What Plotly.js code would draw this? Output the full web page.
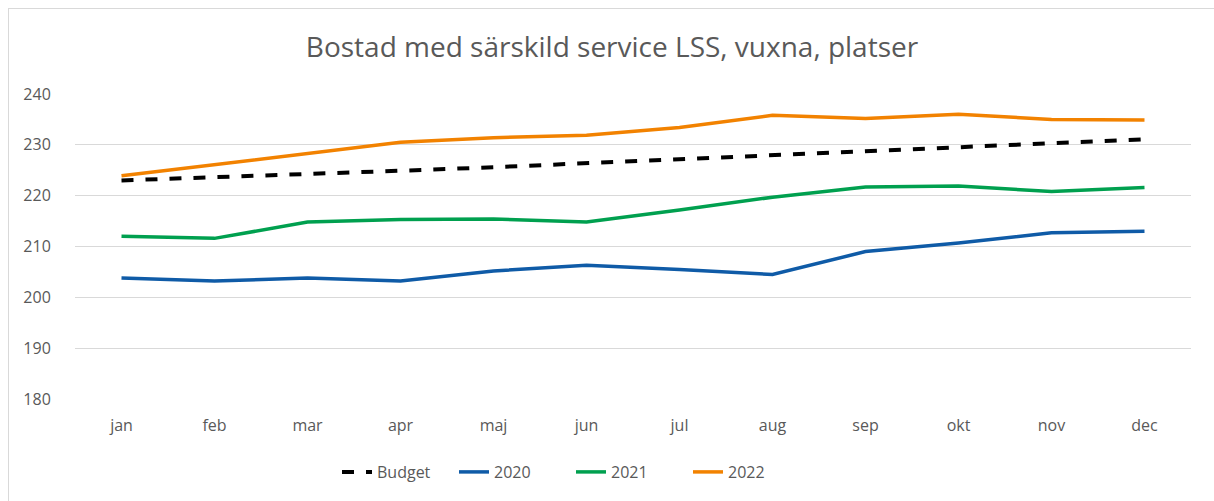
<!DOCTYPE html>
<html>
<head>
<meta charset="utf-8">
<script src="https://cdn.plot.ly/plotly-3.0.1.min.js"></script>
<style>
html,body{margin:0;padding:0;background:#fff;}
#wrap{position:relative;width:1214px;height:501px;}
#chart{width:1214px;height:501px;}
#frame{position:absolute;left:8px;top:8px;width:1206px;height:493px;border-top:1px solid #d9d9d9;border-left:1px solid #d9d9d9;pointer-events:none;}
</style>
</head>
<body>
<div id="wrap"><div id="chart"></div><div id="frame"></div></div>
<script>
const months = ["jan","feb","mar","apr","maj","jun","jul","aug","sep","okt","nov","dec"];
const budget = [223.0,223.6,224.3,224.9,225.6,226.4,227.2,228.0,228.7,229.5,230.4,231.1];
const y2020 = [203.8,203.2,203.8,203.2,205.2,206.3,205.5,204.5,209.0,210.7,212.7,213.0];
const y2021 = [212.0,211.6,214.8,215.3,215.4,214.8,217.2,219.7,221.7,221.9,220.8,221.6];
const y2022 = [223.9,226.1,228.2,230.5,231.4,231.9,233.4,235.8,235.2,236.0,235.0,234.9];
const yTicks = [180,190,200,210,220,230,240];
const titleText = "Bostad med särskild service LSS, vuxna, platser";

const font = "Open Sans, Noto Sans, sans-serif";
const traces = [
  {x: months, y: budget, name: "Budget", type: "scatter", mode: "lines",
   line: {color: "#000000", width: 4, dash: "dash"}},
  {x: months, y: y2020, name: "2020", type: "scatter", mode: "lines",
   line: {color: "#0f5ba7", width: 3.5}},
  {x: months, y: y2021, name: "2021", type: "scatter", mode: "lines",
   line: {color: "#00a04f", width: 3.5}},
  {x: months, y: y2022, name: "2022", type: "scatter", mode: "lines",
   line: {color: "#f28200", width: 3.5}}
];
const layout = {
  width: 1214, height: 501,
  margin: {l: 75, r: 23, t: 94, b: 102},
  paper_bgcolor: "#ffffff", plot_bgcolor: "#ffffff",
  title: {text: titleText, x: 612/1214, xanchor: "center", xref: "container",
          y: 1 - 47/501, yanchor: "middle", yref: "container",
          font: {family: font, size: 28, color: "#595959"}},
  xaxis: {type: "category", range: [-0.5, 11.5], showgrid: false, zeroline: false,
          showline: false, ticks: "outside", ticklen: 12, tickcolor: "rgba(0,0,0,0)",
          tickfont: {family: font, size: 16, color: "#595959"}, fixedrange: true},
  yaxis: {range: [180, 240], tickvals: yTicks, showgrid: true, gridcolor: "#d9d9d9",
          gridwidth: 1, zeroline: false, showline: false, ticks: "outside", ticklen: 20,
          tickcolor: "rgba(0,0,0,0)", tickfont: {family: font, size: 16, color: "#595959"},
          fixedrange: true},
  showlegend: true,
  legend: {orientation: "h", x: 571/1214, xref: "container", xanchor: "center",
           y: 1 - 472/501, yref: "container", yanchor: "middle",
           font: {family: font, size: 16, color: "#595959"},
           entrywidth: 72, entrywidthmode: "pixels", itemwidth: 30, tracegroupgap: 0},
  hovermode: false
};
Plotly.newPlot("chart", traces, layout, {displayModeBar: false, staticPlot: true});
</script>
</body>
</html>
